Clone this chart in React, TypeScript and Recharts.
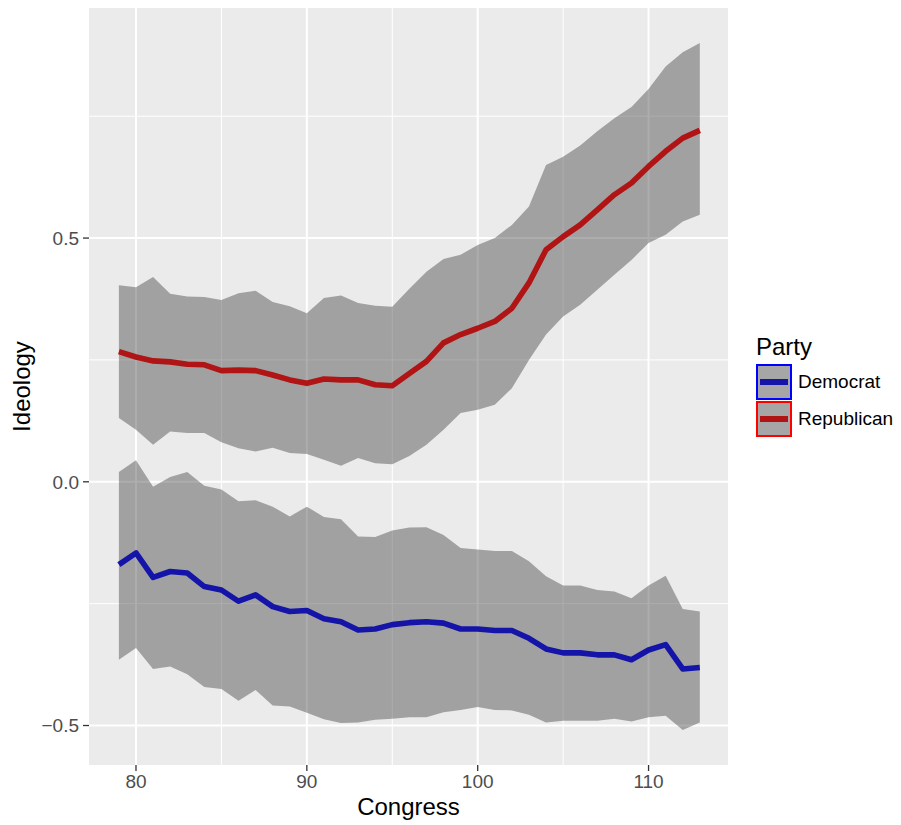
import React from 'react';
import { ComposedChart, Area, Line, XAxis, YAxis, CartesianGrid, Legend, Label } from 'recharts';

const FONT = '"Liberation Sans", Arial, Helvetica, sans-serif';

// Congress sessions on the x axis
const congress = [
  79, 80, 81, 82, 83, 84, 85, 86, 87, 88, 89, 90, 91, 92, 93, 94, 95,
  96, 97, 98, 99, 100, 101, 102, 103, 104, 105, 106, 107, 108, 109, 110, 111, 112, 113,
];

// Democrat mean ideology and its band
const demMean = [
  -0.170, -0.146, -0.196, -0.184, -0.187, -0.215, -0.222, -0.245, -0.232, -0.256, -0.266, -0.264,
  -0.281, -0.287, -0.304, -0.302, -0.293, -0.289, -0.287, -0.290, -0.302, -0.302, -0.305, -0.305,
  -0.321, -0.343, -0.351, -0.351, -0.355, -0.355, -0.365, -0.345, -0.334, -0.384, -0.381,
];
const demHigh = [
  0.020, 0.044, -0.010, 0.010, 0.020, -0.008, -0.016, -0.040, -0.038, -0.051, -0.071, -0.051,
  -0.072, -0.077, -0.112, -0.113, -0.100, -0.094, -0.093, -0.109, -0.136, -0.139, -0.142, -0.142,
  -0.163, -0.194, -0.213, -0.213, -0.222, -0.225, -0.239, -0.213, -0.193, -0.261, -0.266,
];
const demLow = [
  -0.365, -0.341, -0.384, -0.379, -0.395, -0.421, -0.425, -0.449, -0.427, -0.459, -0.461, -0.474,
  -0.487, -0.495, -0.494, -0.488, -0.486, -0.483, -0.483, -0.473, -0.468, -0.462, -0.468, -0.469,
  -0.478, -0.494, -0.490, -0.490, -0.490, -0.486, -0.492, -0.483, -0.480, -0.509, -0.494,
];

// Republican mean ideology and its band
const repMean = [
  0.267, 0.256, 0.248, 0.246, 0.241, 0.240, 0.228, 0.229, 0.228, 0.219, 0.209, 0.202,
  0.211, 0.209, 0.209, 0.199, 0.197, 0.222, 0.247, 0.285, 0.302, 0.315, 0.329, 0.356,
  0.408, 0.476, 0.503, 0.527, 0.558, 0.589, 0.613, 0.647, 0.678, 0.705, 0.721,
];
const repHigh = [
  0.403, 0.399, 0.420, 0.386, 0.380, 0.379, 0.373, 0.387, 0.392, 0.369, 0.360, 0.346,
  0.377, 0.382, 0.367, 0.361, 0.359, 0.396, 0.431, 0.457, 0.466, 0.486, 0.500, 0.527,
  0.565, 0.650, 0.667, 0.690, 0.719, 0.746, 0.769, 0.806, 0.852, 0.881, 0.900,
];
const repLow = [
  0.131, 0.107, 0.076, 0.103, 0.100, 0.100, 0.081, 0.069, 0.062, 0.070, 0.059, 0.057,
  0.045, 0.033, 0.049, 0.038, 0.036, 0.053, 0.076, 0.107, 0.141, 0.148, 0.158, 0.192,
  0.250, 0.302, 0.339, 0.363, 0.394, 0.425, 0.455, 0.490, 0.507, 0.534, 0.548,
];

const parties = ['Democrat', 'Republican'];
const lineColors = ['#1414a8', '#b01414'];
const keyBorders = ['#0000ff', '#ff0000'];

const xTicks = [80, 90, 100, 110];
const xMinor = [85, 95, 105];
const yTicks = [-0.5, 0, 0.5];
const yMinor = [-0.25, 0.25, 0.75];

const data = congress.map((c, i) => ({
  congress: c,
  dem: demMean[i],
  demBand: [demLow[i], demHigh[i]],
  rep: repMean[i],
  repBand: [repLow[i], repHigh[i]],
}));

const fmtY = (v: number) => (v < 0 ? '\u2212' + Math.abs(v).toFixed(1) : v.toFixed(1));

const PartyLegend = () => (
  <div style={{ fontFamily: FONT, color: '#000' }}>
    <div style={{ fontSize: 24, lineHeight: '28px', marginBottom: 2 }}>Party</div>
    {parties.map((p, i) => (
      <div key={p} style={{ display: 'flex', alignItems: 'center', height: 37 }}>
        <div
          style={{
            width: 32,
            height: 32,
            border: `2px solid ${keyBorders[i]}`,
            background: '#a6a6a6',
            position: 'relative',
          }}
        >
          <div
            style={{
              position: 'absolute',
              left: 2,
              right: 2,
              top: 13,
              height: 6,
              background: lineColors[i],
            }}
          />
        </div>
        <span style={{ fontSize: 19, marginLeft: 6 }}>{p}</span>
      </div>
    ))}
  </div>
);

export default function App() {
  return (
    <div style={{ position: 'absolute', left: 0, top: 0, background: '#fff' }}>
      <ComposedChart
        width={901}
        height={825}
        data={data}
        margin={{ top: 8, right: 173, bottom: 0, left: 0 }}
      >
        {/* panel background + minor grid */}
        <CartesianGrid
          fill="#ebebeb"
          stroke="#ffffff"
          strokeWidth={1}
          verticalValues={xMinor}
          horizontalValues={yMinor}
        />
        {/* major grid */}
        <CartesianGrid
          fill="none"
          stroke="#ffffff"
          strokeWidth={2}
          verticalValues={xTicks}
          horizontalValues={yTicks}
        />
        <XAxis
          dataKey="congress"
          type="number"
          domain={[77.25, 114.65]}
          allowDataOverflow
          ticks={xTicks}
          height={60}
          axisLine={false}
          tickSize={6}
          tickMargin={4}
          tickLine={{ stroke: '#333333', strokeWidth: 1.3 }}
          tick={{ fill: '#4d4d4d', fontSize: 19, fontFamily: FONT }}
        >
          <Label
            content={({ viewBox }: any) => (
              <text
                x={viewBox.x + viewBox.width / 2}
                y={viewBox.y + 50}
                textAnchor="middle"
                fontSize={24}
                fontFamily={FONT}
                fill="#000"
              >
                Congress
              </text>
            )}
          />
        </XAxis>
        <YAxis
          type="number"
          domain={[-0.581, 0.972]}
          allowDataOverflow
          ticks={yTicks}
          width={89}
          axisLine={false}
          tickSize={6}
          tickMargin={4}
          tickFormatter={fmtY}
          tickLine={{ stroke: '#333333', strokeWidth: 1.3 }}
          tick={{ fill: '#4d4d4d', fontSize: 19, fontFamily: FONT }}
        >
          <Label
            content={({ viewBox }: any) => {
              const cx = viewBox.x + 30;
              const cy = viewBox.y + viewBox.height / 2;
              return (
                <text
                  x={cx}
                  y={cy}
                  transform={`rotate(-90, ${cx}, ${cy})`}
                  textAnchor="middle"
                  fontSize={24}
                  fontFamily={FONT}
                  fill="#000"
                >
                  Ideology
                </text>
              );
            }}
          />
        </YAxis>
        <Area
          dataKey="demBand"
          type="linear"
          stroke="none"
          fill="#333333"
          fillOpacity={0.4}
          isAnimationActive={false}
          legendType="none"
        />
        <Area
          dataKey="repBand"
          type="linear"
          stroke="none"
          fill="#333333"
          fillOpacity={0.4}
          isAnimationActive={false}
          legendType="none"
        />
        <Line
          dataKey="dem"
          name={parties[0]}
          type="linear"
          stroke={lineColors[0]}
          strokeWidth={5.6}
          strokeLinejoin="round"
          dot={false}
          isAnimationActive={false}
        />
        <Line
          dataKey="rep"
          name={parties[1]}
          type="linear"
          stroke={lineColors[1]}
          strokeWidth={5.6}
          strokeLinejoin="round"
          dot={false}
          isAnimationActive={false}
        />
        <Legend
          layout="horizontal"
          verticalAlign="middle"
          align="center"
          content={() => <PartyLegend />}
          wrapperStyle={{ left: 756, top: 333, width: 145, height: 110 }}
        />
      </ComposedChart>
    </div>
  );
}
